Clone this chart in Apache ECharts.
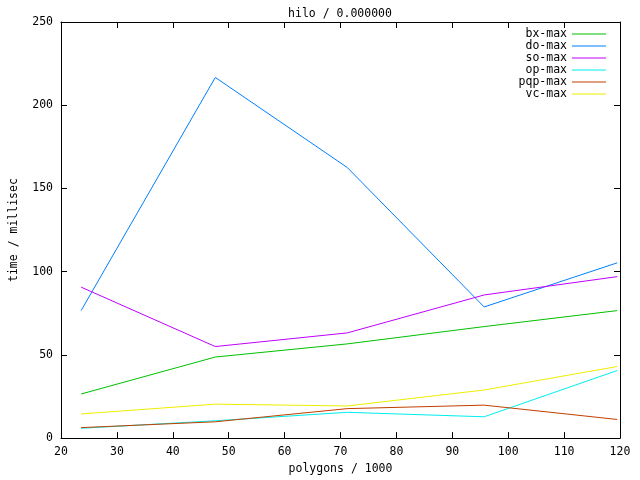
<!DOCTYPE html>
<html>
<head>
<meta charset="utf-8">
<script src="https://cdn.jsdelivr.net/npm/echarts@6/dist/echarts.min.js"></script>
<style>
html,body{margin:0;padding:0;background:#fff;}
#chart{width:640px;height:480px;}
</style>
</head>
<body>
<div id="chart"></div>
<script>
var polygons = [23.6, 47.6, 71.2, 95.7, 119.5];
var seriesNames = ['bx-max', 'do-max', 'so-max', 'op-max', 'pqp-max', 'vc-max'];
var bxMax  = [26.5, 48.7, 56.6, 67.0, 76.6];
var doMax  = [76.6, 216.7, 162.6, 78.8, 105.3];
var soMax  = [90.7, 55.0, 63.2, 86.0, 97.0];
var opMax  = [5.9, 10.4, 15.5, 12.8, 40.6];
var pqpMax = [6.3, 9.8, 17.7, 19.8, 11.2];
var vcMax  = [14.5, 20.4, 19.3, 28.9, 43.0];
var colors = ['#00c000', '#0080ff', '#c000ff', '#00eeee', '#c04000', '#eeee00'];

var allValues = [bxMax, doMax, soMax, opMax, pqpMax, vcMax];
var FONT = 'DejaVu Sans Mono';
var FS = 11.5;

function pairs(vals) {
  return polygons.map(function (x, i) { return [x, vals[i]]; });
}

var axisCommon = {
  type: 'value',
  axisLine: { show: true, onZero: false, lineStyle: { color: '#000', width: 1 } },
  axisTick: { show: true, inside: true, length: 6, lineStyle: { color: '#000', width: 1 } },
  splitLine: { show: false }
};

function mk(extra) { return Object.assign({}, JSON.parse(JSON.stringify(axisCommon)), extra); }

var option = {
  animation: false,
  backgroundColor: '#fff',
  title: {
    text: 'hilo / 0.000000',
    left: 335, top: 3, textAlign: 'center',
    textStyle: { fontFamily: FONT, fontSize: FS, fontWeight: 'normal', color: '#000' }
  },
  legend: {
    data: seriesNames,
    orient: 'vertical',
    align: 'right',
    right: 29, top: 23,
    itemWidth: 34, itemHeight: 1,
    itemGap: 0,
    icon: 'rect',
    textStyle: { fontFamily: FONT, fontSize: FS, color: '#000', lineHeight: 11.9 }
  },
  grid: { left: 58, right: 20, top: 22, bottom: 34, containLabel: false },
  xAxis: [
    mk({
      position: 'bottom', min: 20, max: 120, interval: 10,
      name: 'polygons / 1000', nameLocation: 'middle', nameGap: 21,
      nameTextStyle: { fontFamily: FONT, fontSize: FS, color: '#000' },
      axisLabel: { show: true, margin: 8, fontFamily: FONT, fontSize: FS, color: '#000', showMinLabel: true, showMaxLabel: true }
    }),
    mk({ position: 'top', min: 20, max: 120, interval: 10, axisLabel: { show: false } })
  ],
  yAxis: [
    mk({
      position: 'left', min: 0, max: 250, interval: 50,
      name: 'time / millisec', nameLocation: 'middle', nameGap: 41, nameRotate: 90,
      nameTextStyle: { fontFamily: FONT, fontSize: FS, color: '#000' },
      axisLabel: { show: true, margin: 8, fontFamily: FONT, fontSize: FS, color: '#000', showMinLabel: true, showMaxLabel: true }
    }),
    mk({ position: 'right', min: 0, max: 250, interval: 50, axisLabel: { show: false } })
  ],
  series: seriesNames.map(function (name, i) {
    return {
      name: name,
      type: 'line',
      xAxisIndex: 0, yAxisIndex: 0,
      data: pairs(allValues[i]),
      symbol: 'none',
      color: colors[i],
      lineStyle: { color: colors[i], width: 1 },
      emphasis: { disabled: true }
    };
  })
};

var chart = echarts.init(document.getElementById('chart'), null, { renderer: 'canvas' });
chart.setOption(option);
</script>
</body>
</html>
